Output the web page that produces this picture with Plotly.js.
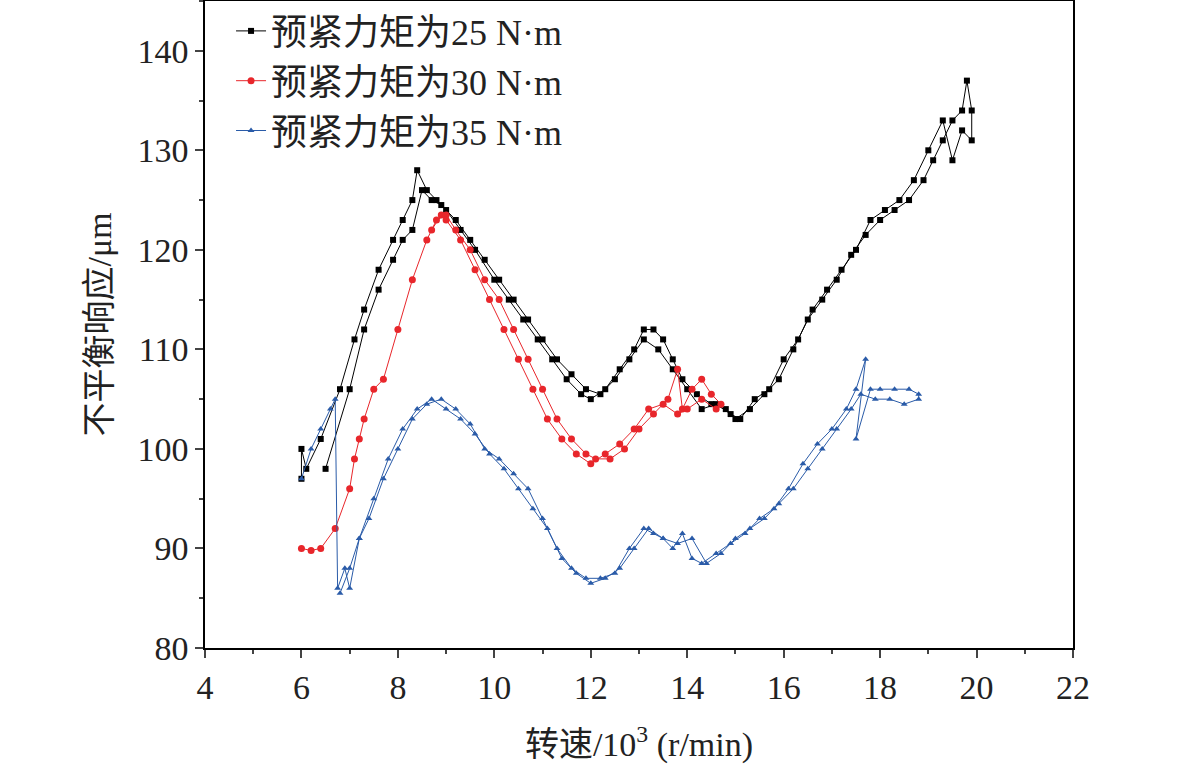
<!DOCTYPE html>
<html><head><meta charset="utf-8">
<script src="https://cdn.plot.ly/plotly-3.0.1.min.js"></script>
<style>body{margin:0;background:#fff}</style></head>
<body><div id="chart" style="width:1181px;height:777px"></div>
<script>
// 预紧力矩 25 N·m (up sweep then down sweep)
const x25 = [6.0,6.0,6.1,6.4,6.8,7.1,7.3,7.6,7.9,8.1,8.3,8.4,8.6,8.8,9.0,9.3,9.6,10.0,10.3,10.6,10.9,11.2,11.5,11.8,12.0,12.3,12.6,12.9,13.1,13.3,13.5,13.7,13.9,14.2,14.5,14.8,15.0,15.3,15.6,15.9,16.2,16.5,16.8,17.1,17.4,17.7,18.0,18.3,18.6,18.9,19.1,19.3,19.5,19.7,19.8,19.9,
  19.9,19.7,19.5,19.3,19.0,18.7,18.4,18.1,17.8,17.5,17.2,16.9,16.6,16.3,16.0,15.7,15.4,15.1,14.9,14.6,14.3,14.0,13.7,13.4,13.1,12.8,12.5,12.2,11.9,11.6,11.3,11.0,10.7,10.4,10.1,9.8,9.5,9.2,8.9,8.7,8.5,8.3,8.1,7.9,7.6,7.3,7.0,6.5,6.0];
const y25 = [97,100,98,101,106,111,114,118,121,123,125,128,126,125,124,122,120,117,115,113,111,109,107,105.5,105,106,108,110,112,112,111,109,107,105.5,104.5,104,103,104,105.5,107,110,113,115,117,119.5,121.5,123,124,125,127,129,131,133,134,137,134,
  131,132,129,133,130,127,125,124,123,120,118,116,114,111,109,106,105,103,103.5,104.5,104,106,108,110,111,109,107,105.5,106,107.5,109,111,113,115,117,119,121,123,124.5,125,126,122,121,119,116,112,106,98];
// 预紧力矩 30 N·m
const x30 = [6.0,6.2,6.4,6.7,7.0,7.1,7.2,7.3,7.5,7.7,8.0,8.3,8.6,8.8,9.0,9.2,9.5,9.8,10.1,10.4,10.7,11.0,11.3,11.6,11.9,12.1,12.4,12.7,13.0,13.3,13.6,13.8,13.9,14.1,14.3,14.5,14.7,
  14.6,14.3,14.0,13.8,13.5,13.2,12.9,12.6,12.3,12.0,11.7,11.4,11.1,10.8,10.5,10.2,9.9,9.6,9.3,9.0,8.9,8.7];
const y30 = [90,89.8,90,92,96,99,101,103,106,107,112,117,121,123,123.5,122,120,117,115,112,109,106,103,101,99.5,99,99,100,102,103.5,105,108,104,106,107,105.5,104.5,
  104,105,104,103.5,104.5,104,102,100.5,99.5,98.5,99.5,101,103,106,109,112,115,118,121,123,123.5,122];
// 预紧力矩 35 N·m
const x35 = [6.0,6.2,6.4,6.6,6.7,6.75,6.9,7.0,7.2,7.4,7.7,8.0,8.3,8.6,8.9,9.2,9.5,9.8,10.1,10.4,10.7,11.0,11.3,11.6,11.9,12.2,12.5,12.8,13.1,13.3,13.5,13.7,13.9,14.1,14.3,14.6,14.9,15.2,15.5,15.8,16.1,16.4,16.7,17.0,17.3,17.5,17.7,17.5,17.8,18.0,18.3,18.6,18.8,
  18.8,18.5,18.2,17.9,17.6,17.4,17.1,16.8,16.5,16.2,15.9,15.6,15.3,15.0,14.7,14.4,14.1,13.8,13.5,13.2,12.9,12.6,12.3,12.0,11.7,11.4,11.1,10.8,10.5,10.2,9.9,9.6,9.3,9.0,8.7,8.4,8.1,7.8,7.5,7.2,7.0,6.8];
const y35 = [97,100,102,104,105,86,88,86,91,93,97,100,103,104.5,105,104,102.5,100,99,97.5,96,93,90,88,87,87,87.5,90,92,91.5,91,90,91.5,89,88.5,89.5,90.5,91.5,93,94,96,98.5,100.5,102,104,106,109,101,106,106,106,106,105.5,
  105,104.5,105,105,105.5,104,102,100,98,96,94.5,93,92,91,89.5,88.5,91,90.5,91,92,90,88,87,86.5,87.5,89,92,94,96,98,99.5,101.5,103,104,105,104,102,99,95,91,88,85.5];

const mk = (x,y,name,color,symbol,size)=>({x,y,name,type:'scatter',mode:'lines+markers',
  line:{color,width:1},marker:{color,symbol,size}});
const axisFont = {family:'Liberation Serif, Times New Roman, serif',size:34,color:'#222'};
Plotly.newPlot('chart',[
  mk(x25,y25,'预紧力矩为25 N·m','#000000','square',6),
  mk(x30,y30,'预紧力矩为30 N·m','#e8262b','circle',7),
  mk(x35,y35,'预紧力矩为35 N·m','#2a5ba8','triangle-up',6)
],{
  width:1181,height:777,paper_bgcolor:'#fff',plot_bgcolor:'#fff',
  margin:{l:205,r:108,t:1,b:129},
  font:{family:'Liberation Serif, Noto Sans CJK SC, serif',size:34,color:'#222'},
  showlegend:true,
  legend:{x:0.03,y:1.0,xanchor:'left',yanchor:'top',bgcolor:'rgba(0,0,0,0)',font:{size:36,family:'Liberation Serif, Noto Sans CJK SC, serif'},tracegroupgap:0},
  xaxis:{range:[4,22],tickvals:[4,6,8,10,12,14,16,18,20,22],ticks:'outside',ticklen:8,tickwidth:1.5,
    minor:{dtick:1,ticks:'outside',ticklen:4},showgrid:false,zeroline:false,showline:true,linecolor:'#000',linewidth:1.5,mirror:true,
    tickfont:axisFont,title:{text:'转速/10<sup>3</sup> (r/min)',font:{size:34},standoff:28}},
  yaxis:{range:[80,145],tickvals:[80,90,100,110,120,130,140],ticks:'outside',ticklen:8,tickwidth:1.5,
    minor:{dtick:5,ticks:'outside',ticklen:4},showgrid:false,zeroline:false,showline:true,linecolor:'#000',linewidth:1.5,mirror:true,
    tickfont:axisFont,title:{text:'不平衡响应/μm',font:{size:34},standoff:16}}
},{displayModeBar:false});
</script></body></html>
